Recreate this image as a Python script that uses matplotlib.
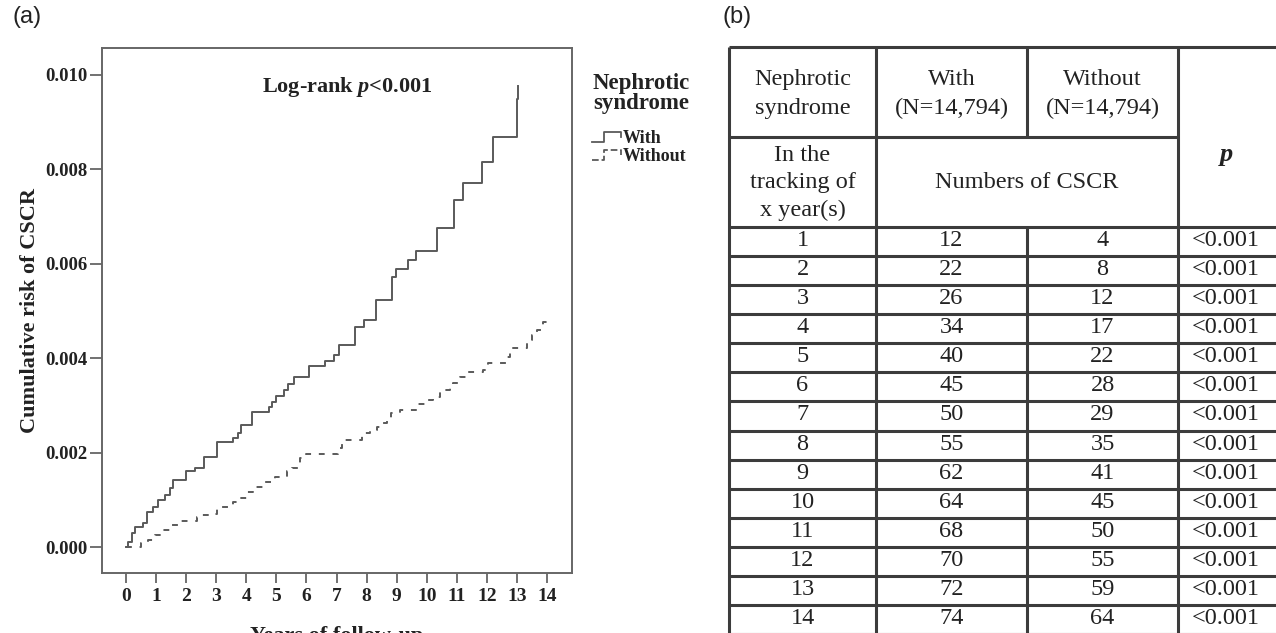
"""
Nephrotic syndrome vs CSCR: cumulative risk curve (a) + yearly counts table (b)
"""
import matplotlib
matplotlib.use('Agg')
import matplotlib.pyplot as plt
from matplotlib.lines import Line2D
from matplotlib.legend_handler import HandlerLine2D

plt.rcParams['font.family'] = ['Liberation Serif', 'DejaVu Serif']
plt.rcParams['mathtext.fontset'] = 'custom'
plt.rcParams['mathtext.rm'] = 'Liberation Serif:bold'
plt.rcParams['mathtext.it'] = 'Liberation Serif:italic:bold'

# ── data: cumulative risk (step points) ──
with_t = [0, 0.08, 0.2, 0.3, 0.55, 0.7, 0.9, 1.05, 1.3, 1.45, 1.57, 2.0, 2.28,
          2.6, 3.02, 3.55, 3.72, 3.83, 4.19, 4.75, 4.87, 5.0, 5.24, 5.4, 5.6,
          6.1, 6.6, 6.9, 7.08, 7.6, 7.92, 8.3, 8.85, 8.99, 9.38, 9.63, 10.33,
          10.92, 11.2, 11.85, 12.2, 13.0, 13.02]
with_v = [0, 0.0001, 0.0003, 0.00043, 0.0005, 0.00075, 0.00085, 0.001, 0.0011,
          0.00125, 0.00143, 0.0016, 0.00167, 0.0019, 0.00223, 0.00232, 0.00242,
          0.00258, 0.00285, 0.00296, 0.00308, 0.0032, 0.00333, 0.00345, 0.00361,
          0.00383, 0.00394, 0.00407, 0.00428, 0.00467, 0.00481, 0.00523, 0.00573,
          0.00589, 0.00608, 0.00628, 0.00675, 0.00735, 0.00772, 0.00816, 0.00868,
          0.0095, 0.00977]

without_t = [0, 0.5, 0.74, 0.96, 1.24, 1.52, 1.8, 2.35, 2.5, 2.9, 3.02, 3.57,
             3.79, 4.01, 4.23, 4.6, 4.96, 5.34, 5.51, 5.79, 6.0, 7.06, 7.17, 7.83,
             8.11, 8.34, 8.5, 8.67, 8.8, 9.11, 9.67, 10.0, 10.22, 10.44, 10.77,
             10.88, 11.1, 11.33, 11.87, 12.04, 12.66, 12.77, 13.32, 13.5, 13.66,
             13.88, 14.0]
without_v = [0, 0.00008, 0.00015, 0.00025, 0.00036, 0.00047, 0.00056, 0.00064,
             0.00068, 0.00071, 0.00085, 0.00096, 0.00103, 0.00117, 0.00128,
             0.00138, 0.00149, 0.0016, 0.00167, 0.00188, 0.00197, 0.00209,
             0.00227, 0.00241, 0.00248, 0.00255, 0.00262, 0.00273, 0.00283,
             0.0029, 0.00304, 0.00311, 0.00318, 0.00333, 0.00336, 0.00347,
             0.0036, 0.00371, 0.00375, 0.00389, 0.00403, 0.00421, 0.00439,
             0.0045, 0.0046, 0.00477, 0.00477]

# ── data: table ──
years = list(range(1, 15))
n_with = [12, 22, 26, 34, 40, 45, 50, 55, 62, 64, 68, 70, 72, 74]
n_without = [4, 8, 12, 17, 22, 28, 29, 35, 41, 45, 50, 55, 59, 64]
p_vals = ['<0.001'] * 14


class StepHandler(HandlerLine2D):
    # SPSS 스타일 계단 모양 범례 아이콘
    def create_artists(self, legend, orig_handle, xdescent, ydescent,
                       width, height, fontsize, trans):
        w, h = width, height
        xs = [-xdescent, -xdescent + 0.4 * w, -xdescent + 0.4 * w,
              -xdescent + w, -xdescent + w]
        ys = [-ydescent + 0.1 * h, -ydescent + 0.1 * h, -ydescent + 0.85 * h,
              -ydescent + 0.85 * h, -ydescent + 0.5 * h]
        ln = Line2D(xs, ys, color=orig_handle.get_color(),
                    lw=orig_handle.get_linewidth(),
                    linestyle=orig_handle.get_linestyle())
        ln.set_transform(trans)
        return [ln]


line_col = '#5a5a5a'
txt_col = '#222222'
W, H = 1276, 633
fig = plt.figure(figsize=(W / 100, H / 100), dpi=100)

# ── (a) 곡선 ──
ax = fig.add_axes([102 / W, 1 - 573 / H, 470 / W, 525 / H])
ax.step(with_t, with_v, where='post', color=line_col, lw=1.4)
ax.step(without_t, without_v, where='post', color=line_col, lw=1.4,
        linestyle=(0, (3, 4)))
ax.set_xlim(-0.8, 14.83)
ax.set_ylim(-0.00055, 0.01057)
ax.set_xticks(range(0, 15))
ax.set_yticks([0, 0.002, 0.004, 0.006, 0.008, 0.010])
ax.set_yticklabels(['0.000', '0.002', '0.004', '0.006', '0.008', '0.010'])
for s in ax.spines.values():
    s.set_color('#666666')
    s.set_linewidth(1.4)
ax.tick_params(axis='x', length=7, width=1.3, color='#666666', pad=4,
               labelsize=14, labelcolor=txt_col)
ax.tick_params(axis='y', length=8.5, width=1.3, color='#666666', pad=2,
               labelsize=13.5, labelcolor=txt_col)
for lab in ax.get_xticklabels() + ax.get_yticklabels():
    lab.set_fontweight('bold')
ax.set_ylabel('Cumulative risk of CSCR', fontsize=16, fontweight='bold',
              labelpad=4, color=txt_col)
ax.set_xlabel('Years of follow-up', fontsize=16, fontweight='bold',
              labelpad=15, color=txt_col)
ax.text(0.521, 0.926, 'Log-rank $p$<0.001', transform=ax.transAxes,
        ha='center', va='center', fontsize=16, fontweight='bold', color=txt_col)

# 범례: 제목은 따로, 항목은 legend로
fig.text(593 / W, 1 - 73 / H, 'Nephrotic\nsyndrome', fontsize=16.5,
         fontweight='bold', va='top', ha='left', linespacing=0.95, color=txt_col)
handles = [Line2D([], [], color=line_col, lw=1.3),
           Line2D([], [], color=line_col, lw=1.3, linestyle=(0, (2.5, 3)))]
leg = fig.legend(handles, ['With', 'Without'], loc='upper left',
                 bbox_to_anchor=(592 / W, 1 - 130 / H), frameon=False,
                 fontsize=13, handlelength=1.6, handletextpad=0.1,
                 labelspacing=0.05, borderpad=0, borderaxespad=0,
                 handler_map={Line2D: StepHandler()})
for t in leg.get_texts():
    t.set_fontweight('bold')
    t.set_color(txt_col)

# ── (b) 표 ──
tb = fig.add_axes([0, 0, 1, 1])
tb.set_xlim(0, W)
tb.set_ylim(H, 0)
tb.axis('off')

fig.text(12 / W, 1 - 6 / H, '(a)', family='Liberation Sans', fontsize=17,
         va='top', color=txt_col)
fig.text(722 / W, 1 - 6 / H, '(b)', family='Liberation Sans', fontsize=17,
         va='top', color=txt_col)

cx = [729, 876, 1027, 1178, W + 5]
top, h1, h2 = 47, 137, 227
row_h = (H + 1 - h2) / len(years)
tcol = '#3c3c3c'
lw = 2.2

tb.hlines(top, cx[0], W, color=tcol, lw=lw)
tb.hlines(h1, cx[0], cx[3], color=tcol, lw=lw)
tb.hlines(h2, cx[0], W, color=tcol, lw=lw)
for i in range(1, len(years) + 1):
    tb.hlines(h2 + row_h * i, cx[0], W, color=tcol, lw=lw)
bottom = h2 + row_h * len(years)
tb.vlines([cx[0], cx[1], cx[3]], top, bottom, color=tcol, lw=lw)
tb.vlines(cx[2], top, h1, color=tcol, lw=lw)
tb.vlines(cx[2], h2, bottom, color=tcol, lw=lw)

fs = 17.5
mid = [(cx[k] + cx[k + 1]) / 2 for k in range(3)]
for k, lab in enumerate(['Nephrotic\nsyndrome', 'With\n(N=14,794)',
                         'Without\n(N=14,794)']):
    tb.text(mid[k], (top + h1) / 2 + 2, lab, ha='center', va='center',
            fontsize=fs, linespacing=1.5, color=txt_col)
tb.text(mid[0], (h1 + h2) / 2 + 1, 'In the\ntracking of\nx year(s)', ha='center',
        va='center', fontsize=fs, linespacing=1.42, color=txt_col)
tb.text((cx[1] + cx[3]) / 2, (h1 + h2) / 2, 'Numbers of CSCR', ha='center',
        va='center', fontsize=fs, color=txt_col)
tb.text(1226, 155, 'p', ha='center', va='center', fontsize=19,
        fontweight='bold', fontstyle='italic', color=txt_col)

for i, (yr, a, b, p) in enumerate(zip(years, n_with, n_without, p_vals)):
    yc = h2 + row_h * (i + 0.5) - 1
    tb.text(mid[0], yc, str(yr), ha='center', va='center', fontsize=fs, color=txt_col)
    tb.text(mid[1], yc, str(a), ha='center', va='center', fontsize=fs, color=txt_col)
    tb.text(mid[2], yc, str(b), ha='center', va='center', fontsize=fs, color=txt_col)
    tb.text(1226, yc, p, ha='center', va='center', fontsize=19 if False else fs,
            color=txt_col)

fig.savefig('out.png', dpi=100)
